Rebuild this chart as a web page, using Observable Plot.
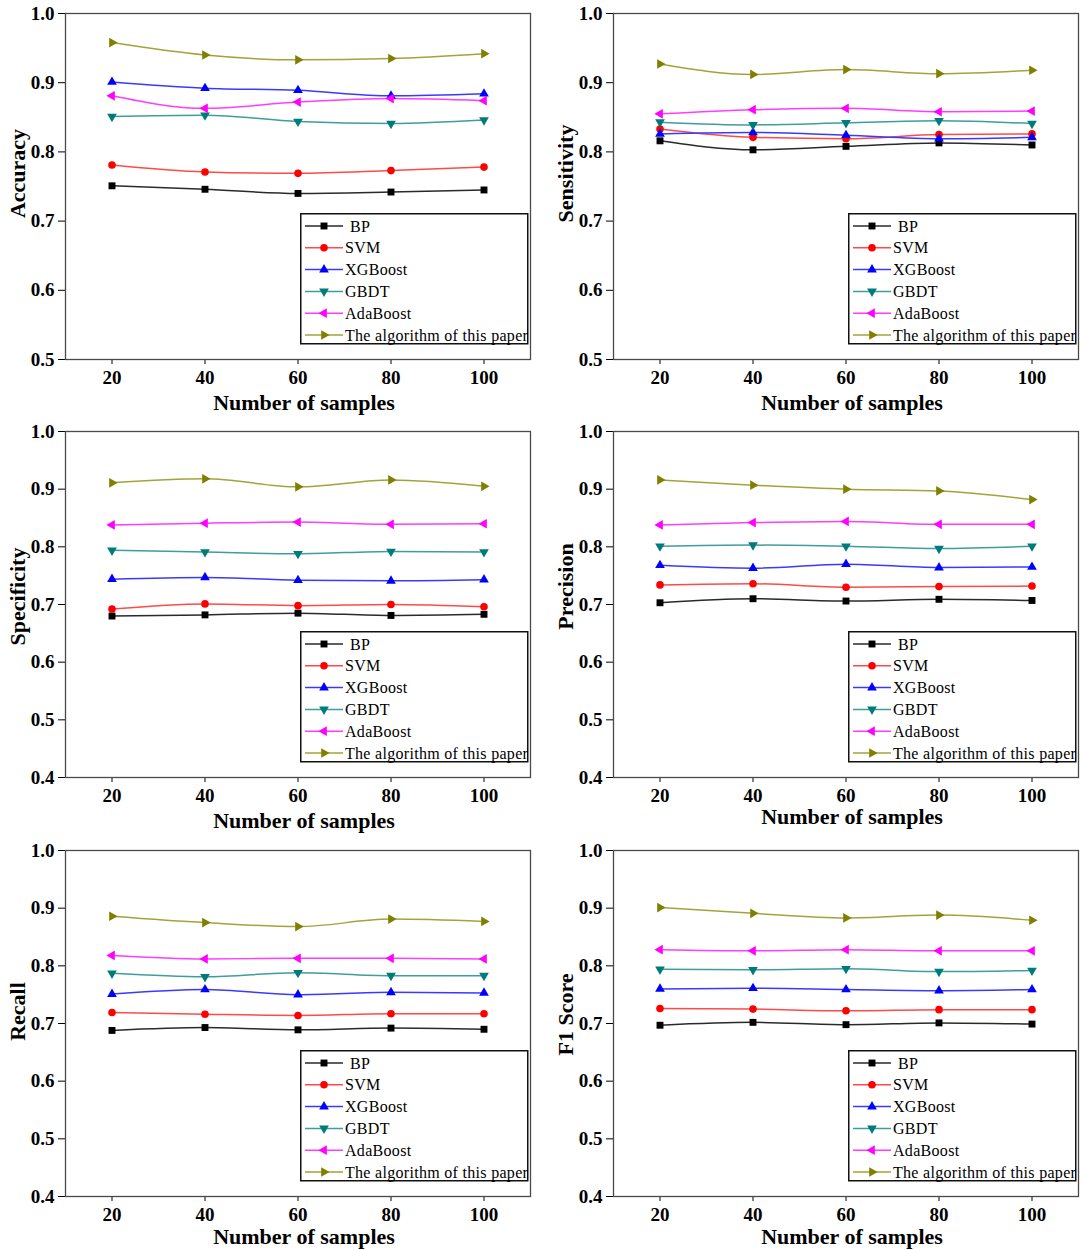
<!DOCTYPE html>
<html>
<head>
<meta charset="utf-8">
<script src="https://cdn.jsdelivr.net/npm/d3@7"></script>
<script src="https://cdn.jsdelivr.net/npm/@observablehq/plot@0.6"></script>
<style>
  body { margin: 0; background: #fff; }
  #root { position: relative; width: 1084px; height: 1250px; overflow: hidden; }
  .cell { position: absolute; width: 540px; height: 410px; }
  .cell svg { max-width: none !important; }
  .legend { position: absolute; }
</style>
</head>
<body>
<div id="root"></div>
<script>
// ---------- data ----------
const samples = [20, 40, 60, 80, 100];
const methods = ["BP", "SVM", "XGBoost", "GBDT", "AdaBoost", "The algorithm of this paper"];
const yTicksTop = [0.5, 0.6, 0.7, 0.8, 0.9, 1.0];
const yTicksLow = [0.4, 0.5, 0.6, 0.7, 0.8, 0.9, 1.0];

// rows follow the order of `methods`
const accuracy = [
  [0.751, 0.746, 0.740, 0.742, 0.745],
  [0.781, 0.771, 0.769, 0.773, 0.778],
  [0.901, 0.892, 0.889, 0.881, 0.884],
  [0.851, 0.853, 0.844, 0.841, 0.846],
  [0.881, 0.863, 0.872, 0.877, 0.874],
  [0.958, 0.940, 0.933, 0.935, 0.942]
];
const sensitivity = [
  [0.816, 0.803, 0.808, 0.813, 0.810],
  [0.833, 0.821, 0.819, 0.825, 0.826],
  [0.826, 0.828, 0.824, 0.819, 0.821],
  [0.843, 0.839, 0.842, 0.845, 0.841],
  [0.855, 0.861, 0.863, 0.858, 0.859],
  [0.927, 0.912, 0.919, 0.913, 0.918]
];
const specificity = [
  [0.680, 0.682, 0.685, 0.681, 0.683],
  [0.692, 0.701, 0.698, 0.700, 0.696],
  [0.744, 0.747, 0.742, 0.741, 0.743],
  [0.794, 0.791, 0.788, 0.792, 0.791],
  [0.838, 0.841, 0.843, 0.839, 0.840],
  [0.911, 0.918, 0.904, 0.916, 0.905]
];
const precision = [
  [0.703, 0.710, 0.706, 0.709, 0.707],
  [0.734, 0.736, 0.730, 0.731, 0.732],
  [0.768, 0.763, 0.770, 0.764, 0.765],
  [0.801, 0.803, 0.801, 0.797, 0.801],
  [0.838, 0.842, 0.844, 0.839, 0.839],
  [0.916, 0.907, 0.900, 0.897, 0.882]
];
const recall = [
  [0.688, 0.693, 0.689, 0.692, 0.690],
  [0.719, 0.716, 0.714, 0.717, 0.717],
  [0.751, 0.759, 0.750, 0.754, 0.753],
  [0.787, 0.781, 0.788, 0.783, 0.783],
  [0.818, 0.812, 0.813, 0.813, 0.812],
  [0.886, 0.875, 0.868, 0.881, 0.877]
];
const f1score = [
  [0.697, 0.702, 0.698, 0.701, 0.699],
  [0.726, 0.725, 0.722, 0.724, 0.724],
  [0.760, 0.761, 0.759, 0.757, 0.759],
  [0.794, 0.793, 0.795, 0.790, 0.792],
  [0.828, 0.826, 0.828, 0.826, 0.826],
  [0.901, 0.891, 0.883, 0.888, 0.879]
];

// ---------- styles ----------
const markerColors = ["#000000", "#ff0000", "#0000ff", "#007b7b", "#ff00ff", "#7f7f00"];
const lineColors   = ["#2a2a2a", "#ff4a4a", "#3a3aff", "#3f9d9d", "#ff3cff", "#a3a33a"];
const symbols   = ["square", "circle", "triangle", "triangle", "triangle", "triangle"];
const rotations = [0, 0, 0, 180, -90, 90];
const radii     = [3.9, 3.8, 3.6, 3.6, 3.6, 3.6];
const FONT = "'Liberation Serif', 'Times New Roman', serif";

const panels = [
  {name: "Accuracy",    values: accuracy,    domain: [0.5, 1.0], ticks: yTicksTop, left: 0,   top: 0,   ldy: -13, tdy: 43},
  {name: "Sensitivity", values: sensitivity, domain: [0.5, 1.0], ticks: yTicksTop, left: 548, top: 0,   ldy: -13, tdy: 43},
  {name: "Specificity", values: specificity, domain: [0.4, 1.0], ticks: yTicksLow, left: 0,   top: 418, ldy: -8,  tdy: 43},
  {name: "Precision",   values: precision,   domain: [0.4, 1.0], ticks: yTicksLow, left: 548, top: 418, ldy: -18, tdy: 39},
  {name: "Recall",      values: recall,      domain: [0.4, 1.0], ticks: yTicksLow, left: 0,   top: 837, ldy: -12, tdy: 40},
  {name: "F1 Score",    values: f1score,     domain: [0.4, 1.0], ticks: yTicksLow, left: 548, top: 837, ldy: -9,  tdy: 40}
];

const W = 540, H = 410, ML = 65, MR = 10, MT = 13, MB = 51;
const root = document.getElementById("root");

function makePanel(p) {
  const marks = [Plot.frame({stroke: "#4a4a4a", strokeWidth: 1.3})];
  methods.forEach((m, i) => {
    const rows = samples.map((s, j) => ({x: s, y: p.values[i][j]}));
    marks.push(Plot.line(rows, {x: "x", y: "y", stroke: lineColors[i], strokeWidth: 1.5, curve: "monotone-x"}));
  });
  methods.forEach((m, i) => {
    const rows = samples.map((s, j) => ({x: s, y: p.values[i][j]}));
    marks.push(Plot.dot(rows, {x: "x", y: "y", symbol: symbols[i], rotate: rotations[i],
      fill: markerColors[i], stroke: "none", r: radii[i]}));
  });
  marks.push(Plot.text([p.name], {text: d => d, frameAnchor: "left", rotate: -90, dx: -48, dy: p.ldy,
    textAnchor: "middle", lineAnchor: "middle", fontSize: 22, fontWeight: "bold", fill: "#000"}));
  marks.push(Plot.text(["Number of samples"], {text: d => d, frameAnchor: "bottom", dx: 6, dy: p.tdy,
    textAnchor: "middle", lineAnchor: "middle", fontSize: 22, fontWeight: "bold", fill: "#000"}));

  const chart = Plot.plot({
    width: W, height: H, marginLeft: ML, marginRight: MR, marginTop: MT, marginBottom: MB,
    style: {fontFamily: FONT, fontSize: "19px", fontWeight: "bold", color: "#000", background: "transparent", overflow: "visible", maxWidth: "none"},
    x: {domain: [10, 110], ticks: samples, tickSize: 5, tickPadding: 6, label: null},
    y: {domain: p.domain, ticks: p.ticks, tickFormat: d3.format(".1f"), tickSize: 7, tickPadding: 4, label: null},
    marks
  });
  const cell = document.createElement("div");
  cell.className = "cell";
  cell.style.left = p.left + "px";
  cell.style.top = p.top + "px";
  cell.appendChild(chart);
  root.appendChild(cell);

  // legend (lower right of the frame)
  const LW = 227, LH = 130;
  const lx = p.left + W - MR - 230;
  const ly = p.top + H - MB - 146;
  const svg = d3.create("svg").attr("width", LW + 2).attr("height", LH + 2)
    .attr("class", "legend").style("left", lx + "px").style("top", ly + "px");
  svg.append("rect").attr("x", 0.75).attr("y", 0.75).attr("width", LW).attr("height", LH)
    .attr("fill", "#fff").attr("stroke", "#111").attr("stroke-width", 1.5);
  const symbolTypes = [d3.symbolSquare, d3.symbolCircle, d3.symbolTriangle, d3.symbolTriangle, d3.symbolTriangle, d3.symbolTriangle];
  methods.forEach((m, i) => {
    const cy = 13 + i * 21.8;
    const g = svg.append("g");
    g.append("line").attr("x1", 5).attr("x2", 43).attr("y1", cy).attr("y2", cy)
      .attr("stroke", lineColors[i]).attr("stroke-width", 1.5);
    const size = Math.PI * radii[i] * radii[i];
    g.append("path").attr("d", d3.symbol(symbolTypes[i], size)())
      .attr("transform", `translate(24,${cy}) rotate(${rotations[i]})`)
      .attr("fill", markerColors[i]);
    g.append("text").attr("x", i === 0 ? 50 : 45).attr("y", cy).attr("dy", "0.35em")
      .attr("font-family", FONT).attr("font-size", 16).attr("letter-spacing", "0.3px")
      .attr("fill", "#000").text(m);
  });
  root.appendChild(svg.node());
}

panels.forEach(makePanel);
</script>
</body>
</html>
